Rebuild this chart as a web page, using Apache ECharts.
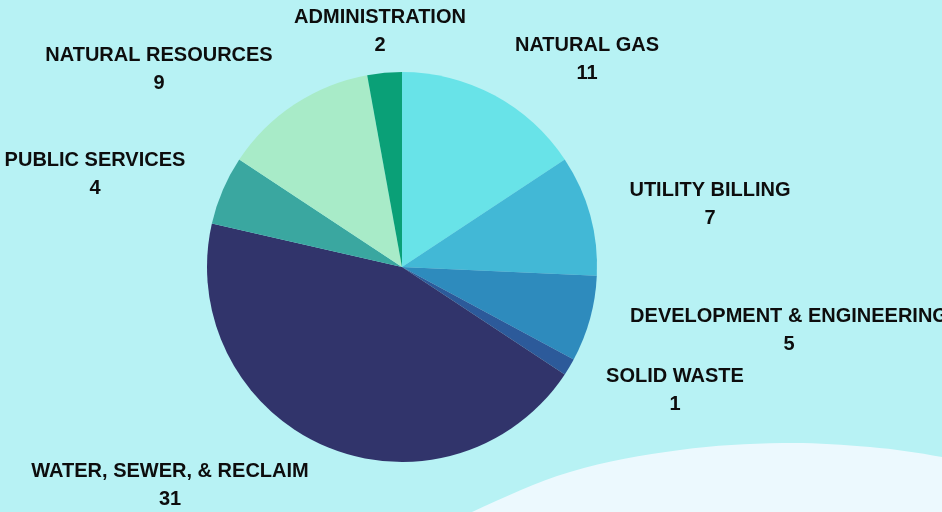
<!DOCTYPE html>
<html>
<head>
<meta charset="utf-8">
<script src="https://cdn.jsdelivr.net/npm/echarts@6/dist/echarts.min.js"></script>
<style>
  html, body { margin: 0; padding: 0; background: #b7f2f4; }
  #chart { width: 942px; height: 512px; }
</style>
</head>
<body>
<div id="chart"></div>
<script>
const categories = [
  "NATURAL GAS",
  "UTILITY BILLING",
  "DEVELOPMENT & ENGINEERING",
  "SOLID WASTE",
  "WATER, SEWER, & RECLAIM",
  "PUBLIC SERVICES",
  "NATURAL RESOURCES",
  "ADMINISTRATION",
];
const values = [11, 7, 5, 1, 31, 4, 9, 2];
const colors = [
  "#68e3e8",
  "#42b8d6",
  "#2e8bbd",
  "#2c5a9a",
  "#31346b",
  "#3aa7a0",
  "#a8ebc8",
  "#0aa077",
];
// where each label block sits (center of the two text lines)
const labelSpots = [
  [587, 59],
  [710, 204],
  [789, 330],
  [675, 390],
  [170, 485],
  [95, 174],
  [159, 69],
  [380, 31],
];

const chart = echarts.init(document.getElementById("chart"));

const pieData = categories.map((name, i) => ({
  name: name,
  value: values[i],
  itemStyle: { color: colors[i] },
}));

const option = {
  backgroundColor: "#b7f2f4",
  animation: false,
  graphic: [
    {
      // pale wave in the lower right corner
      type: "polygon",
      z: -1,
      shape: {
        points: [
          [330, 580],
          [472, 512],
          [570, 472],
          [680, 450],
          [783, 443],
          [870, 447],
          [942, 457],
          [1010, 472],
          [1010, 600],
          [330, 600],
        ],
        smooth: 0.35,
      },
      style: { fill: "#ecf9fe" },
    },
  ],
  series: [
    {
      type: "pie",
      center: [402, 267],
      radius: 195,
      startAngle: 90,
      clockwise: true,
      data: pieData,
      label: {
        show: true,
        position: "outside",
        formatter: "{b}\n{c}",
        color: "#0d0d0d",
        fontFamily: "Liberation Sans",
        fontWeight: "bold",
        fontSize: 20,
        lineHeight: 28,
        align: "center",
        overflow: "none",
      },
      labelLine: { show: false },
      labelLayout: (params) => {
        const spot = labelSpots[params.dataIndex];
        return {
          x: spot[0],
          y: spot[1],
          align: "center",
          verticalAlign: "middle",
        };
      },
      emphasis: { disabled: true },
    },
  ],
};

chart.setOption(option);
</script>
</body>
</html>
